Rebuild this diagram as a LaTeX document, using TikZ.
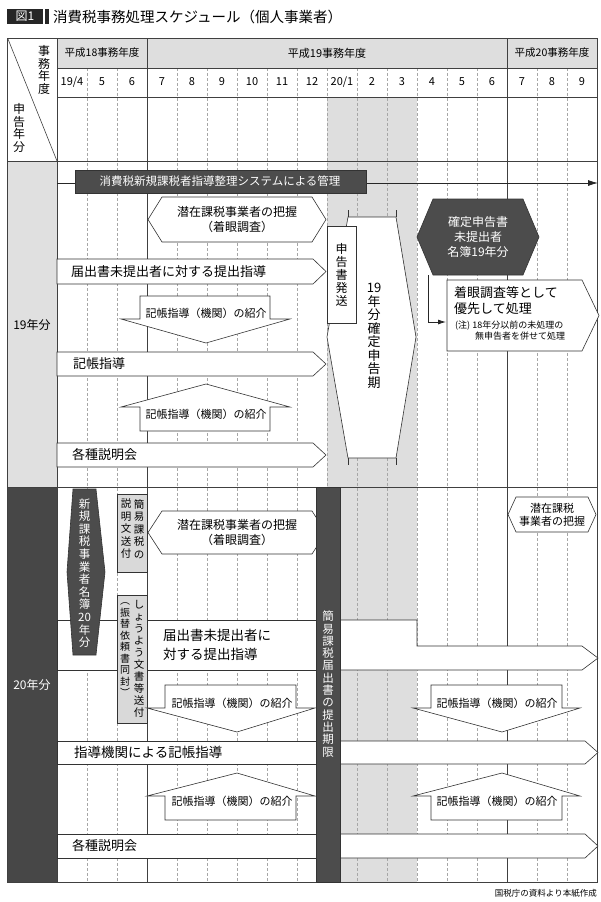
\documentclass[tikz,border=0pt]{standalone}
\usepackage{fontspec}
\setmainfont{Noto Sans CJK JP}
\usetikzlibrary{arrows.meta}
\tikzset{
 shp/.style={draw=black!80,fill=white,line width=0.6pt},
 dk/.style={draw=black!80,fill=black!70,line width=0.6pt},
 gbox/.style={draw=black!80,fill=black!15,line width=0.6pt},
 grd/.style={densely dashed,draw=black!35,line width=0.4pt},
 frm/.style={draw=black!75,line width=0.8pt},
 vtxt/.style={align=center,inner sep=0pt},
 lbl/.style={inner sep=0pt,anchor=west}
}
\newcommand\rarr[4]{\draw[shp] (#1,#3) -- ({#2-13},#3) -- (#2,{(#3+#4)/2}) -- ({#2-13},#4) -- (#1,#4) -- cycle;}
\newcommand\darr[8]{\draw[shp] (#1,#6)--(#2,#6)--(#2,#7)--(#4,#7)--(#5,#8)--(#3,#7)--(#1,#7)--cycle;}
\newcommand\hexa[6][shp]{\draw[#1] (#2,{(#4+#5)/2})--({#2+#6},#4)--({#3-#6},#4)--(#3,{(#4+#5)/2})--({#3-#6},#5)--({#2+#6},#5)--cycle;}
\begin{document}
\begin{tikzpicture}[x=1pt,y=-1pt]
\useasboundingbox (0,0) rectangle (600,902);
% title
\fill[black!85] (7,9) rectangle (43,24);
\node[text=white,font=\fontsize{12}{12}\selectfont] (zu) at (25,16.5) {図1};
\fill[black!85] (45,9) rectangle (49,24);
\node[lbl,font=\fontsize{14.5}{15}\selectfont] (title) at (53,16.5) {消費税事務処理スケジュール（個人事業者）};
% backgrounds
\fill[black!13] (57,38) rectangle (597,68);
\fill[black!13] (327,97) rectangle (417,882);
\fill[black!12] (7,161) rectangle (57,487);
\fill[black!72] (7,487) rectangle (57,882);
% grid
\foreach \i in {1,...,17} \draw[grd] ({57+30*\i},68) -- ({57+30*\i},882);
\draw[frm] (147,38) -- (147,882);
\draw[frm] (507,38) -- (507,882);
\draw[frm] (57,38) -- (57,882);
\draw[frm] (57,68) -- (597,68);
\draw[frm] (57,97) -- (597,97);
\draw[frm] (7,161) -- (597,161);
\draw[frm] (7,487) -- (597,487);
\draw[frm] (7,38) rectangle (597,882);
\draw[black!75,line width=0.6pt] (8,39) -- (57,161);
% header
\node[vtxt,font=\fontsize{12}{12.5}\selectfont] (jimu) at (44,70) {事\\務\\年\\度};
\node[vtxt,font=\fontsize{12}{12.5}\selectfont] (shin) at (19,128) {申\\告\\年\\分};
\node[font=\fontsize{10.5}{11}\selectfont] (h18) at (102,53) {平成18事務年度};
\node[font=\fontsize{11}{11}\selectfont] (h19) at (327,53) {平成19事務年度};
\node[font=\fontsize{10.5}{11}\selectfont] (h20) at (552,53) {平成20事務年度};
\foreach \m [count=\i from 0] in {19/4,5,6,7,8,9,10,11,12,20/1,2,3,4,5,6,7,8,9}
  \node[font=\fontsize{11}{11}\selectfont] (m\i) at ({72+30*\i},82) {\m};
% section labels
\node[font=\fontsize{12}{12}\selectfont] (y19) at (32,325) {19年分};
\node[text=white,font=\fontsize{12}{12}\selectfont] (y20) at (32,685) {20年分};
% ===== 19 section =====
\coordinate (a0) at (57,183);
\coordinate (a1) at (598,183);
\draw[black!85,line width=0.8pt,-{Latex[length=10pt,width=6pt]}] (a0) -- (a1);
\draw[dk] (75,170) rectangle (366,193);
\node[text=white,font=\fontsize{11.5}{12}\selectfont] (sys) at (220,181.5) {消費税新規課税者指導整理システムによる管理};
\hexa{148}{326}{197}{242}{14}
\node[vtxt,font=\fontsize{12}{15}\selectfont] (sen19) at (237,219.5) {潜在課税事業者の把握\\（着眼調査）};
\rarr{57}{326}{259}{284}
\node[lbl,font=\fontsize{13}{13}\selectfont] (todo19) at (71,271.5) {届出書未提出者に対する提出指導};
\darr{140}{270}{121}{290}{206}{296}{319}{343}
\node[font=\fontsize{11}{11}\selectfont] (kd19a) at (206,313) {記帳指導（機関）の紹介};
\rarr{57}{326}{352}{376}
\node[lbl,font=\fontsize{13}{13}\selectfont] (kc19) at (73,364) {記帳指導};
\darr{140}{270}{121}{290}{206}{431}{407}{384}
\node[font=\fontsize{11}{11}\selectfont] (kd19b) at (206,414) {記帳指導（機関）の紹介};
\rarr{57}{326}{443}{467}
\node[lbl,font=\fontsize{13}{13}\selectfont] (ks19) at (72,455) {各種説明会};
% filing period
\draw[shp] (348,217)--(396,217)--(416,337)--(396,458)--(348,458)--(327,337)--cycle;
\draw[black!80,line width=0.6pt] (348,210)--(348,217) (396,210)--(396,217) (348,458)--(348,465) (396,458)--(396,465);
\node[vtxt,font=\fontsize{13}{13.5}\selectfont] (kakutei) at (374,336) {19\\年\\分\\確\\定\\申\\告\\期};
\draw[shp] (327,226) rectangle (356,323);
\node[vtxt,font=\fontsize{12}{13}\selectfont] (hasso) at (341.5,274.5) {申\\告\\書\\発\\送};
% dark double arrow
\draw[dk] (433,199)--(523,199)--(539,237)--(523,275)--(433,275)--(417,237)--cycle;
\node[vtxt,text=white,font=\fontsize{12}{15}\selectfont] (meibo19) at (478,237) {確定申告書\\未提出者\\名簿19年分};
\draw[shp] (447,280)--(582,280)--(599,315.5)--(582,351)--(447,351)--cycle;
\coordinate (c1) at (428,322);
\draw[black!85,line width=0.8pt,-{Latex[length=8pt,width=5pt]}] (428,275) -- (c1) -- (446,322);
\node[anchor=north west,align=left,inner sep=0pt,font=\fontsize{13}{16}\selectfont] (chakugan) at (454,286) {着眼調査等として\\優先して処理};
\node[anchor=north west,align=left,inner sep=0pt,font=\fontsize{9}{11}\selectfont] (chu) at (455,321) {(注) 18年分以前の未処理の\\\hspace{2.2em}無申告者を併せて処理};
% ===== 20 section =====
\draw[shp] (57,620) rectangle (316,670);
\draw[shp] (340,620)--(417,620)--(417,646)--(582,646)--(598,658)--(582,670)--(340,670)--cycle;
\node[lbl,align=left,font=\fontsize{13.5}{19}\selectfont] (todo20) at (163,645) {届出書未提出者に\\対する提出指導};
\draw[dk] (73,489)--(96,489)--(105,572)--(96,655)--(73,655)--(67,572)--cycle;
\node[vtxt,text=white,font=\fontsize{11.5}{12.6}\selectfont] (meibo20) at (84.5,573) {新\\規\\課\\税\\事\\業\\者\\名\\簿\\20\\年\\分};
\draw[gbox] (117,494) rectangle (147,572);
\node[vtxt,font=\fontsize{10.5}{12.5}\selectfont] (kani1) at (139,529) {簡\\易\\課\\税\\の};
\node[vtxt,font=\fontsize{10.5}{12.5}\selectfont] (kani2) at (126,529) {説\\明\\文\\送\\付};
\draw[gbox] (117,595) rectangle (147,723);
\node[vtxt,font=\fontsize{10.5}{12}\selectfont] (shoyo1) at (139,659) {し\\ょ\\う\\よ\\う\\文\\書\\等\\送\\付};
\node[vtxt,font=\fontsize{10}{11.5}\selectfont] (shoyo2) at (125,650) {︵\\振\\替\\依\\頼\\書\\同\\封\\︶};
\hexa{148}{326}{511}{554}{14}
\node[vtxt,font=\fontsize{12}{15}\selectfont] (sen20) at (237,532.5) {潜在課税事業者の把握\\（着眼調査）};
\hexa{508}{596}{497}{532}{8}
\node[vtxt,font=\fontsize{11}{13}\selectfont] (sen20b) at (552,514.5) {潜在課税\\事業者の把握};
\darr{165}{296}{147}{315}{237}{685}{708}{732}
\node[font=\fontsize{11}{11}\selectfont] (kd20a) at (232,703) {記帳指導（機関）の紹介};
\darr{431}{562}{413}{580}{502}{685}{708}{732}
\node[font=\fontsize{11}{11}\selectfont] (kd20b) at (497,703) {記帳指導（機関）の紹介};
\draw[shp] (57,741) rectangle (316,764);
\rarr{340}{598}{741}{764}
\node[lbl,font=\fontsize{13.5}{13.5}\selectfont] (kc20) at (74,752.5) {指導機関による記帳指導};
\darr{165}{296}{147}{315}{237}{820}{796}{773}
\node[font=\fontsize{11}{11}\selectfont] (kd20c) at (232,801) {記帳指導（機関）の紹介};
\darr{431}{562}{413}{580}{502}{820}{796}{773}
\node[font=\fontsize{11}{11}\selectfont] (kd20d) at (497,801) {記帳指導（機関）の紹介};
\draw[shp] (57,834) rectangle (316,858);
\rarr{340}{598}{834}{858}
\node[lbl,font=\fontsize{13}{13}\selectfont] (ks20) at (72,846) {各種説明会};
\draw[dk] (316,487) rectangle (340,882);
\node[vtxt,text=white,font=\fontsize{11.5}{12.3}\selectfont] (kigen) at (328,684) {簡\\易\\課\\税\\届\\出\\書\\の\\提\\出\\期\\限};
% footer
\node[anchor=east,inner sep=0pt,font=\fontsize{8.5}{9}\selectfont] (src) at (597,893) {国税庁の資料より本紙作成};
\end{tikzpicture}
\end{document}
